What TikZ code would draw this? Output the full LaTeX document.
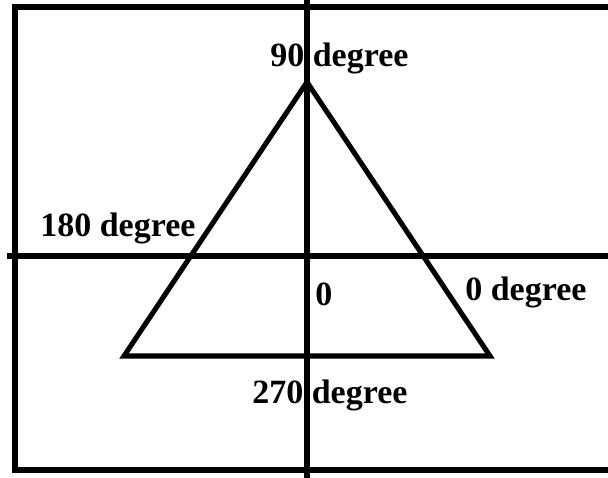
\documentclass[tikz,border=0pt]{standalone}
\usepackage{fontspec}
\setmainfont{Liberation Serif}
\begin{document}
\begin{tikzpicture}[x=0.75pt,y=-0.75pt,
  thick line/.style={line width=3.8pt,line join=miter},
  lbl/.style={font=\fontsize{25.5}{29}\selectfont\bfseries,inner sep=0pt,anchor=west}]
\useasboundingbox (0,0) rectangle (608,478);
\fill[white] (0,0) rectangle (608,478);
% frame
\coordinate (tl) at (15,7);
\coordinate (br) at (615,470);
\draw[thick line] (tl) rectangle (br);
% axes
\coordinate (vtop) at (307,-5);
\coordinate (vbot) at (307,485);
\coordinate (hleft) at (7,256);
\coordinate (hright) at (615,256);
\draw[thick line] (vtop) -- (vbot);
\draw[thick line] (hleft) -- (hright);
% triangle
\coordinate (apex) at (307,82);
\coordinate (bl) at (124,356);
\coordinate (brt) at (490,356);
\draw[thick line] (apex) -- (bl) -- (brt) -- cycle;
% labels
\node[lbl] (l90) at (270,58) {90 degree};
\node[lbl] (l180) at (40,228) {180 degree};
\node[lbl] (lzero) at (315,294) {0};
\node[lbl] (l0) at (465,292) {0 degree};
\node[lbl] (l270) at (252,395) {270 degree};
\end{tikzpicture}
\end{document}
